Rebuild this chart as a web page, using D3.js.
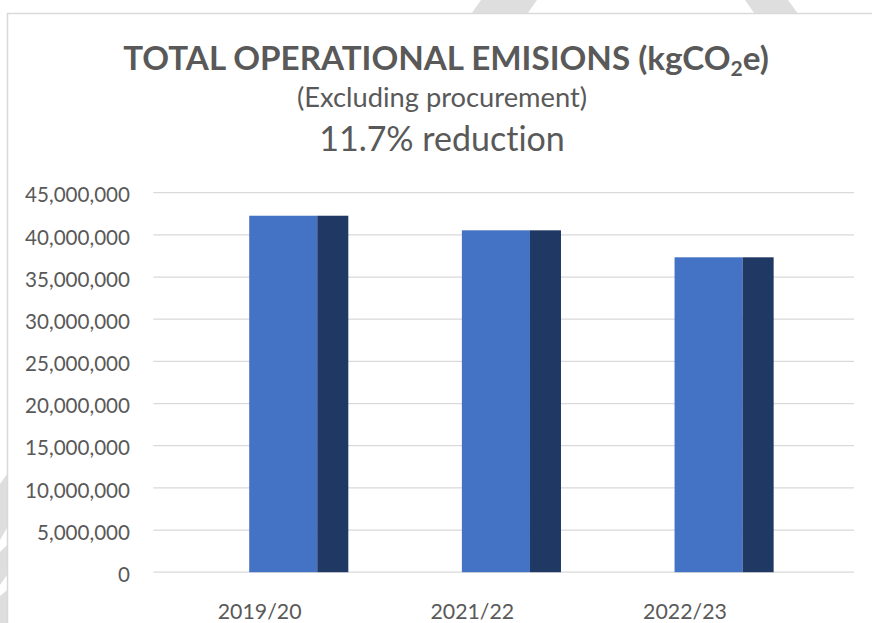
<!DOCTYPE html>
<html>
<head>
<meta charset="utf-8">
<script src="https://cdn.jsdelivr.net/npm/d3@7"></script>
<style>
  html, body { margin: 0; padding: 0; background: #ffffff; }
  svg { display: block; }
  .texto { font-family: Lato, "Open Sans", sans-serif; fill: #595959; font-variant-ligatures: none; }
</style>
</head>
<body>
<div id="grafica"></div>
<script>
//Datos de la gráfica
const categorias = ["2019/20", "2021/22", "2022/23"];
const emisiones = [42270000, 40540000, 37340000];
const ticksY = [0, 5000000, 10000000, 15000000, 20000000, 25000000, 30000000, 35000000, 40000000, 45000000];

const titulo = "TOTAL OPERATIONAL EMISIONS (kgCO";
const subtitulo = "(Excluding procurement)";
const reduccion = "11.7% reduction";

const ancho = 872;
const alto = 623;

var svg = d3.select("#grafica")
    .append("svg")
    .attr("width", ancho)
    .attr("height", alto);

//Marca de agua gris que queda fuera del área del gráfico
var marca = [
    [[481, 0], [537, 0], [516, 30], [460, 30]],
    [[745, 0], [788, 0], [810, 30], [766, 30]],
    [[0, 484], [7, 474], [7, 528], [0, 540]],
    [[0, 552], [7, 545], [7, 575], [0, 585]],
    [[0, 596], [7, 590], [7, 623], [0, 623]]
];
svg.selectAll(".marca")
    .data(marca)
    .enter()
    .append("polygon")
    .attr("points", function(d) { return d.join(" "); })
    .style("fill", "#dedede");

//Área del gráfico con borde
svg.append("rect")
    .attr("x", 7.5)
    .attr("y", 13.5)
    .attr("width", ancho + 20)
    .attr("height", alto + 20)
    .style("fill", "#ffffff")
    .style("stroke", "#d9d9d9")
    .style("stroke-width", 1.5);

//Escalas
var y = d3.scaleLinear().domain([0, 45000000]).range([572.2, 192.7]);
var x = d3.scaleBand().domain(categorias).range([153.3, 791.3]).padding(0);
var xGrid = [153.3, 854];

//Líneas de la cuadrícula
svg.selectAll(".grid")
    .data(ticksY)
    .enter()
    .append("line")
    .attr("x1", xGrid[0])
    .attr("x2", xGrid[1])
    .attr("y1", function(d) { return y(d); })
    .attr("y2", function(d) { return y(d); })
    .style("stroke", "#d9d9d9")
    .style("stroke-width", 1.3);

//Etiquetas del eje y
var ejeY = d3.axisLeft(y)
    .tickValues(ticksY)
    .tickFormat(d3.format(","))
    .tickSize(0)
    .tickPadding(0);

var gY = svg.append("g")
    .attr("transform", "translate(130,0)")
    .call(ejeY);
gY.select(".domain").remove();
gY.selectAll("text")
    .attr("class", "texto")
    .attr("dy", "0.45em")
    .style("font-size", "20.6px");

//Columnas: cara frontal y cara lateral
var paso = x.step();
svg.selectAll(".frente")
    .data(emisiones)
    .enter()
    .append("rect")
    .attr("x", function(d, i) { return x(categorias[i]) + paso * 0.451; })
    .attr("y", function(d) { return y(d); })
    .attr("width", paso * 0.32)
    .attr("height", function(d) { return y(0) - y(d); })
    .style("fill", "#4472c4");

svg.selectAll(".lado")
    .data(emisiones)
    .enter()
    .append("rect")
    .attr("x", function(d, i) { return x(categorias[i]) + paso * 0.771; })
    .attr("y", function(d) { return y(d); })
    .attr("width", paso * 0.146)
    .attr("height", function(d) { return y(0) - y(d); })
    .style("fill", "#203864");

//Etiquetas del eje x
var ejeX = d3.axisBottom(x).tickSize(0).tickPadding(0);
var gX = svg.append("g")
    .attr("transform", "translate(0,619)")
    .call(ejeX);
gX.select(".domain").remove();
gX.selectAll("text")
    .attr("class", "texto")
    .attr("dy", 0)
    .style("font-size", "21.3px");

//Títulos
var t = svg.append("text")
    .attr("class", "texto")
    .attr("x", 446)
    .attr("y", 70)
    .attr("text-anchor", "middle")
    .style("font-size", "33.2px")
    .style("font-weight", "bold");
t.append("tspan").text(titulo);
t.append("tspan").attr("dy", 6).style("font-size", "21px").text("2");
t.append("tspan").attr("dy", -6).text("e)");

svg.append("text")
    .attr("class", "texto")
    .attr("x", 442)
    .attr("y", 107)
    .attr("text-anchor", "middle")
    .style("font-size", "27.3px")
    .text(subtitulo);

svg.append("text")
    .attr("class", "texto")
    .attr("x", 442)
    .attr("y", 151)
    .attr("text-anchor", "middle")
    .style("font-size", "34px")
    .text(reduccion);
</script>
</body>
</html>
